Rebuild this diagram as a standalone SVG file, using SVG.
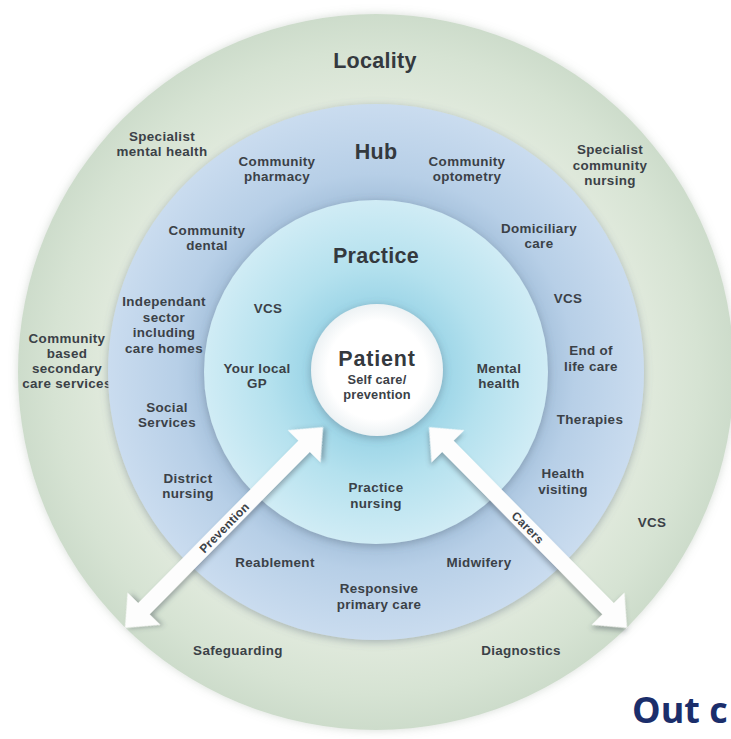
<svg xmlns="http://www.w3.org/2000/svg" width="731" height="739" viewBox="0 0 731 739">
<defs>
<radialGradient id="gLoc" gradientUnits="userSpaceOnUse" cx="376" cy="372" r="358">
<stop offset="0.74" stop-color="#e1eadd"/>
<stop offset="0.9" stop-color="#d6e3d3"/>
<stop offset="1" stop-color="#cddccb"/>
</radialGradient>
<radialGradient id="gHub" gradientUnits="userSpaceOnUse" cx="376" cy="372" r="268">
<stop offset="0.62" stop-color="#a4c0db"/>
<stop offset="0.74" stop-color="#b7cfe7"/>
<stop offset="1" stop-color="#cadcef"/>
</radialGradient>
<radialGradient id="gPr" gradientUnits="userSpaceOnUse" cx="376" cy="372" r="172">
<stop offset="0.38" stop-color="#9cd5e7"/>
<stop offset="0.62" stop-color="#b4e1ee"/>
<stop offset="1" stop-color="#d0ecf5"/>
</radialGradient>
<radialGradient id="gPt" gradientUnits="userSpaceOnUse" cx="377" cy="370" r="66">
<stop offset="0.75" stop-color="#ffffff"/>
<stop offset="1" stop-color="#edf2f4"/>
</radialGradient>
<filter id="sh" x="-10%" y="-10%" width="120%" height="120%">
<feGaussianBlur in="SourceAlpha" stdDeviation="4"/>
<feOffset dx="0" dy="2" result="b"/>
<feFlood flood-color="#5a6a7a" flood-opacity="0.45"/>
<feComposite in2="b" operator="in"/>
<feMerge><feMergeNode/><feMergeNode in="SourceGraphic"/></feMerge>
</filter>
<filter id="soft" x="-10%" y="-10%" width="120%" height="120%">
<feGaussianBlur in="SourceAlpha" stdDeviation="5" result="bl"/>
<feFlood flood-color="#8a9a8a" flood-opacity="0.35"/>
<feComposite in2="bl" operator="in"/>
<feMerge><feMergeNode/><feMergeNode in="SourceGraphic"/></feMerge>
</filter>
<filter id="ash" x="-20%" y="-20%" width="140%" height="140%">
<feGaussianBlur in="SourceAlpha" stdDeviation="2.5"/>
<feOffset dx="2" dy="3" result="b"/>
<feFlood flood-color="#404a55" flood-opacity="0.4"/>
<feComposite in2="b" operator="in"/>
<feMerge><feMergeNode/><feMergeNode in="SourceGraphic"/></feMerge>
</filter>
<polygon id="arr" points="141,0 114,-23 114,-8 -114,-8 -114,-23 -141,0 -114,23 -114,8 114,8 114,23"/>
</defs>
<style>
.lbl{font-family:"Liberation Sans",Arial,sans-serif;font-weight:700;font-size:13.4px;letter-spacing:0.35px;fill:#3b4147;text-anchor:middle}
.big{font-size:21.5px;letter-spacing:0.3px;fill:#34393e}
.sub{font-size:12.8px;letter-spacing:0.2px}
.arrtxt{font-family:"Liberation Sans",Arial,sans-serif;font-weight:700;font-size:12px;letter-spacing:0.3px;fill:#3b4147;text-anchor:middle}
.arrow{fill:#fdfdfd;filter:url(#ash)}
</style>
<rect width="731" height="739" fill="#ffffff"/>
<g id="locality">
<circle cx="376" cy="372" r="358" fill="url(#gLoc)" filter="url(#soft)"/>
<text class="lbl big" x="375" y="68">Locality</text>
<text class="lbl" x="162" y="141">Specialist<tspan x="162" dy="15">mental health</tspan></text>
<text class="lbl" x="610" y="154">Specialist<tspan x="610" dy="15.5">community</tspan><tspan x="610" dy="15.5">nursing</tspan></text>
<text class="lbl" x="67" y="343">Community<tspan x="67" dy="15">based</tspan><tspan x="67" dy="15">secondary</tspan><tspan x="67" dy="15">care services</tspan></text>
<text class="lbl" x="652" y="527">VCS</text>
<text class="lbl" x="238" y="655">Safeguarding</text>
<text class="lbl" x="521" y="655">Diagnostics</text>
</g>
<g id="hub">
<circle cx="376" cy="372" r="268" fill="url(#gHub)" filter="url(#sh)"/>
<text class="lbl big" x="376" y="159">Hub</text>
<text class="lbl" x="277" y="166">Community<tspan x="277" dy="15">pharmacy</tspan></text>
<text class="lbl" x="467" y="166">Community<tspan x="467" dy="15">optometry</tspan></text>
<text class="lbl" x="207" y="235">Community<tspan x="207" dy="15">dental</tspan></text>
<text class="lbl" x="539" y="233">Domiciliary<tspan x="539" dy="15">care</tspan></text>
<text class="lbl" x="164" y="306">Independant<tspan x="164" dy="15.5">sector</tspan><tspan x="164" dy="15.5">including</tspan><tspan x="164" dy="15.5">care homes</tspan></text>
<text class="lbl" x="167" y="412">Social<tspan x="167" dy="15">Services</tspan></text>
<text class="lbl" x="188" y="483">District<tspan x="188" dy="15">nursing</tspan></text>
<text class="lbl" x="568" y="303">VCS</text>
<text class="lbl" x="591" y="355">End of<tspan x="591" dy="16">life care</tspan></text>
<text class="lbl" x="590" y="424">Therapies</text>
<text class="lbl" x="563" y="478">Health<tspan x="563" dy="16">visiting</tspan></text>
<text class="lbl" x="275" y="567">Reablement</text>
<text class="lbl" x="379" y="593">Responsive<tspan x="379" dy="16">primary care</tspan></text>
<text class="lbl" x="479" y="567">Midwifery</text>
</g>
<g id="practice">
<circle cx="376" cy="372" r="172" fill="url(#gPr)" filter="url(#sh)"/>
<text class="lbl big" x="376" y="263">Practice</text>
<text class="lbl" x="268" y="313">VCS</text>
<text class="lbl" x="257" y="373">Your local<tspan x="257" dy="15">GP</tspan></text>
<text class="lbl" x="499" y="373">Mental<tspan x="499" dy="15">health</tspan></text>
<text class="lbl" x="376" y="492">Practice<tspan x="376" dy="15.5">nursing</tspan></text>
</g>
<g id="patient">
<circle cx="377" cy="370" r="66" fill="url(#gPt)" filter="url(#sh)"/>
<text class="lbl big" x="377" y="366" style="letter-spacing:0.8px">Patient</text>
<text class="lbl sub" x="377" y="383.5">Self care/<tspan x="377" dy="15">prevention</tspan></text>
</g>
<g id="connectors">
<g transform="translate(224 527.5) rotate(-45.4)">
<use href="#arr" class="arrow"/>
<text class="arrtxt" x="0" y="4.5">Prevention</text>
</g>
<g transform="translate(528 527.5) rotate(45.4)">
<use href="#arr" class="arrow"/>
<text class="arrtxt" x="0" y="4.5">Carers</text>
</g>
</g>
<text x="632" y="723" font-family="Open Sans, Noto Sans, sans-serif" font-weight="700" font-size="36" fill="#1b2e6b">Out c</text>
</svg>
